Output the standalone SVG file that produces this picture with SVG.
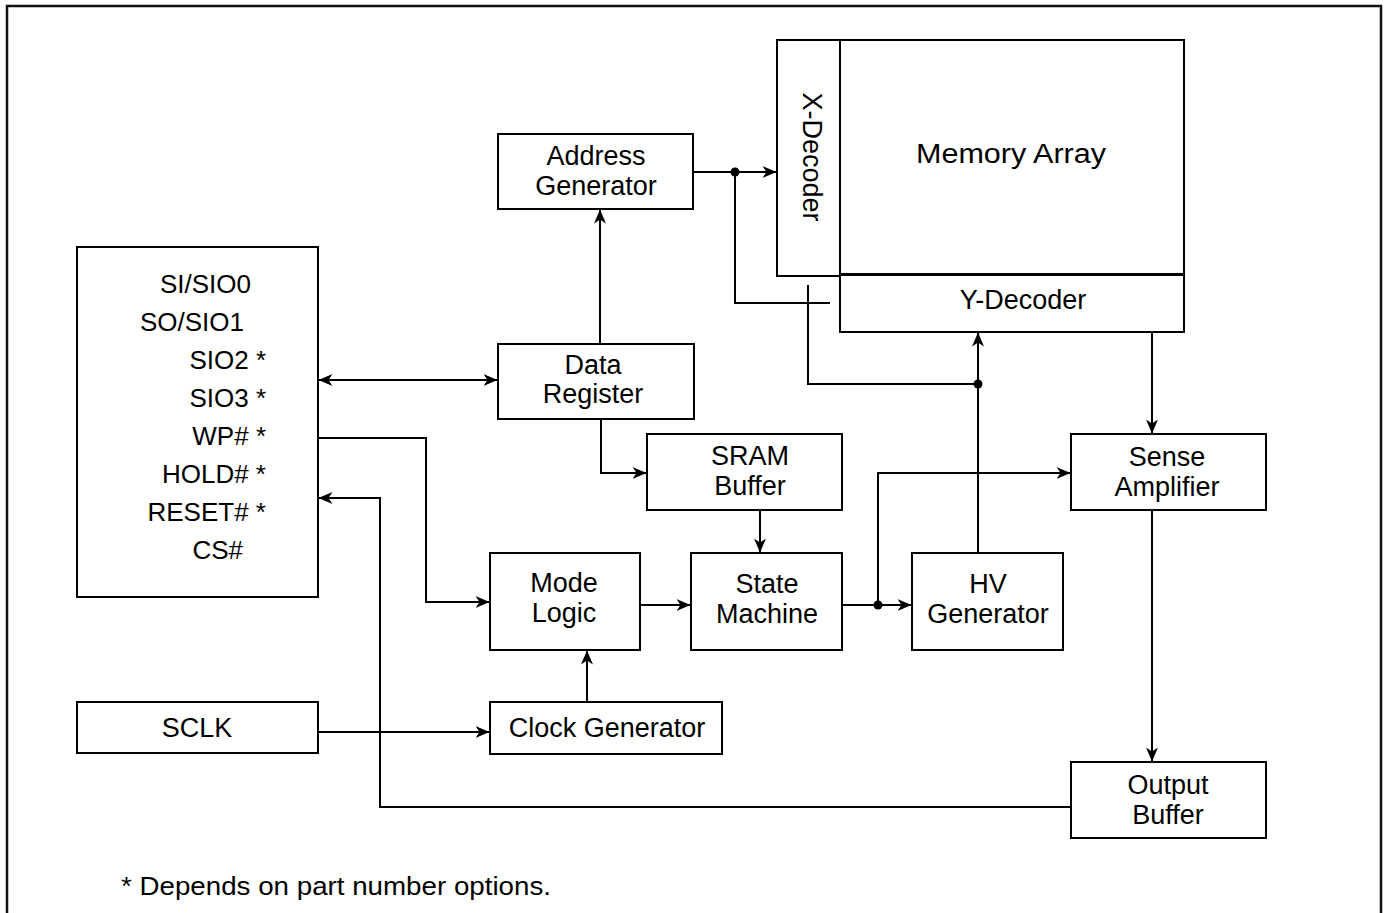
<svg xmlns="http://www.w3.org/2000/svg" width="1388" height="913" viewBox="0 0 1388 913">
<style>
.box{fill:#fff;stroke:#000;stroke-width:2}
.t{font-family:"Liberation Sans",Arial,sans-serif;font-size:27px;fill:#000;text-anchor:middle}
.p{font-family:"Liberation Sans",Arial,sans-serif;font-size:26px;fill:#000;text-anchor:end}
.c{fill:none;stroke:#000;stroke-width:2}
</style>
<defs>
<marker id="arr" viewBox="0 0 14 13" refX="13.5" refY="6.5" markerWidth="14" markerHeight="13" markerUnits="userSpaceOnUse" orient="auto-start-reverse">
<path d="M0,0.5 L14,6.5 L0,12.5 L4,6.5 z" fill="#000"/>
</marker>
</defs>
<rect width="1388" height="913" fill="#fff"/>
<path d="M7,920 V6 H1381 V920" fill="none" stroke="#111" stroke-width="2.5"/>

<g id="connectors">
<path class="c" d="M693,172 H776" marker-end="url(#arr)"/>
<path class="c" d="M735,172 V303 H830"/>
<path class="c" d="M808,285 V384 H978"/>
<path class="c" d="M978,552 V333" marker-end="url(#arr)"/>
<path class="c" d="M600,344 V210" marker-end="url(#arr)"/>
<path class="c" d="M319,380 H497" marker-start="url(#arr)" marker-end="url(#arr)"/>
<path class="c" d="M318,438 H426 V602 H489" marker-end="url(#arr)"/>
<path class="c" d="M1071,807 H380 V498 H319" marker-end="url(#arr)"/>
<path class="c" d="M601,419 V473 H646" marker-end="url(#arr)"/>
<path class="c" d="M760,510 V552" marker-end="url(#arr)"/>
<path class="c" d="M640,605 H690" marker-end="url(#arr)"/>
<path class="c" d="M842,605 H911" marker-end="url(#arr)"/>
<path class="c" d="M878,605 V473 H1070" marker-end="url(#arr)"/>
<path class="c" d="M1152,332 V433" marker-end="url(#arr)"/>
<path class="c" d="M1152,510 V761" marker-end="url(#arr)"/>
<path class="c" d="M318,732 H489" marker-end="url(#arr)"/>
<path class="c" d="M587,702 V651" marker-end="url(#arr)"/>
<circle cx="735" cy="172" r="4.5" fill="#000"/>
<circle cx="978" cy="384" r="4.5" fill="#000"/>
<circle cx="878" cy="605" r="4.5" fill="#000"/>
</g>

<g id="pins">
<rect class="box" x="77" y="247" width="241" height="350" stroke-width="3"/>
<text class="p" x="251" y="293">SI/SIO0</text>
<text class="p" x="244" y="331">SO/SIO1</text>
<text class="p" x="266" y="369">SIO2 *</text>
<text class="p" x="266" y="407">SIO3 *</text>
<text class="p" x="266" y="445">WP# *</text>
<text class="p" x="266" y="483">HOLD# *</text>
<text class="p" x="266" y="521">RESET# *</text>
<text class="p" x="243" y="559">CS#</text>
</g>

<g id="address-generator">
<rect class="box" x="498" y="134" width="195" height="75"/>
<text class="t" x="596" y="165">Address</text>
<text class="t" x="596" y="195">Generator</text>
</g>

<g id="x-decoder">
<rect class="box" x="777" y="40" width="63" height="236"/>
<text class="t" transform="translate(812,157) rotate(90)" dominant-baseline="central" font-size="25">X-Decoder</text>
</g>

<g id="memory-array">
<rect class="box" x="840" y="40" width="344" height="234" stroke-width="3"/>
<text class="t" x="1011" y="163" font-size="29" textLength="190" lengthAdjust="spacingAndGlyphs">Memory Array</text>
</g>

<g id="y-decoder">
<rect class="box" x="840" y="275" width="344" height="57"/>
<text class="t" x="1023" y="309" font-size="26">Y-Decoder</text>
</g>

<g id="data-register">
<rect class="box" x="498" y="344" width="196" height="75"/>
<text class="t" x="593" y="374">Data</text>
<text class="t" x="593" y="403">Register</text>
</g>

<g id="sram-buffer">
<rect class="box" x="647" y="434" width="195" height="76"/>
<text class="t" x="750" y="465">SRAM</text>
<text class="t" x="750" y="495">Buffer</text>
</g>

<g id="sense-amplifier">
<rect class="box" x="1071" y="434" width="195" height="76"/>
<text class="t" x="1167" y="466">Sense</text>
<text class="t" x="1167" y="496">Amplifier</text>
</g>

<g id="mode-logic">
<rect class="box" x="490" y="553" width="150" height="97"/>
<text class="t" x="564" y="592">Mode</text>
<text class="t" x="564" y="622">Logic</text>
</g>

<g id="state-machine">
<rect class="box" x="691" y="553" width="151" height="97"/>
<text class="t" x="767" y="593">State</text>
<text class="t" x="767" y="623">Machine</text>
</g>

<g id="hv-generator">
<rect class="box" x="912" y="553" width="151" height="97"/>
<text class="t" x="988" y="593">HV</text>
<text class="t" x="988" y="623">Generator</text>
</g>

<g id="sclk">
<rect class="box" x="77" y="702" width="241" height="51"/>
<text class="t" x="197" y="737">SCLK</text>
</g>

<g id="clock-generator">
<rect class="box" x="490" y="702" width="232" height="52"/>
<text class="t" x="607" y="737">Clock Generator</text>
</g>

<g id="output-buffer">
<rect class="box" x="1071" y="762" width="195" height="76"/>
<text class="t" x="1168" y="794">Output</text>
<text class="t" x="1168" y="824">Buffer</text>
</g>

<text x="121" y="895" font-family="'Liberation Sans',Arial,sans-serif" font-size="26" textLength="430" lengthAdjust="spacingAndGlyphs" fill="#000">* Depends on part number options.</text>
</svg>
